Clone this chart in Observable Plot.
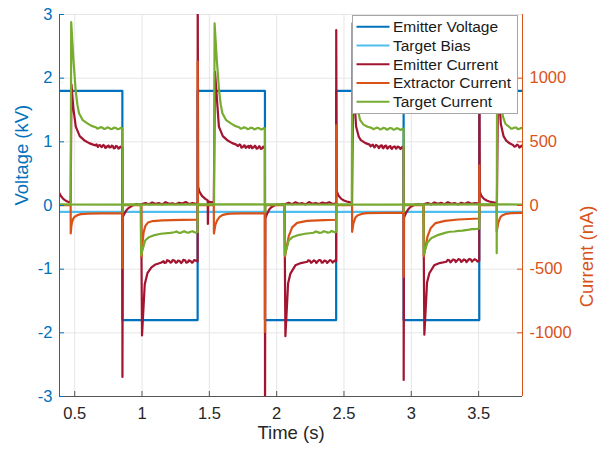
<!DOCTYPE html>
<html><head><meta charset="utf-8">
<script src="https://cdn.jsdelivr.net/npm/d3@7"></script>
<script src="https://cdn.jsdelivr.net/npm/@observablehq/plot@0.6"></script>
<style>
body{margin:0;background:#fff;}
#chart{position:relative;width:601px;height:450px;font-family:"Liberation Sans",Arial,Helvetica,sans-serif;}
#legend{position:absolute;left:352px;top:15px;}
</style></head><body><div id="chart"></div>
<script>
// ---------- data ----------
const seriesNames = ["Emitter Voltage","Target Bias","Emitter Current","Extractor Current","Target Current"];
const seriesColors = ["#0072BD","#4DBEEE","#A2142F","#D95319","#77AC30"];
const xDomain = [0.387, 3.826];
const timeTicks = [0.5, 1, 1.5, 2, 2.5, 3, 3.5];
const voltLimits = [-3, 3];
const voltTicks = [-3, -2, -1, 0, 1, 2, 3];
const currentLimits = [-1500, 1500];
const currentTicks = [-1000, -500, 0, 500, 1000];

// Emitter voltage (kV)
const voltT = [0.387, 0.854, 0.854, 1.413, 1.413, 1.913, 1.913, 2.442, 2.442, 2.943, 2.943, 3.505, 3.505, 3.826];
const voltV = [1.8, 1.8, -1.8, -1.8, 1.8, 1.8, -1.8, -1.8, 1.8, 1.8, -1.8, -1.8, 1.8, 1.8];
// Target bias (kV)
const biasT = [0.387, 3.826];
const biasV = [-0.1, -0.1];

// Emitter current (nA): [time s, current nA]
const emitterCurrent = [
[0.387,95],[0.395,80],[0.405,64],[0.415,52],[0.425,44],[0.435,37],[0.445,31],[0.455,28],[0.463,26],[0.470,27],
[0.476,950],[0.490,760],[0.508,620],[0.537,545],[0.570,513],[0.607,490],[0.637,478],
[0.655,472],[0.661,480],[0.672,460],[0.677,470],[0.688,474],[0.699,458],[0.704,462],[0.712,475],[0.722,468],[0.727,452],[0.736,455],[0.741,466],[0.752,471],[0.757,456],[0.768,458],[0.774,470],[0.784,466],[0.790,449],[0.800,452],[0.806,468],[0.816,463],[0.825,447],[0.832,450],[0.839,462],[0.846,458],[0.854,455],
[0.8545,-1346],[0.857,-90],[0.870,-62],[0.885,-36],[0.900,-20],[0.920,-6],[0.940,5],[0.960,12],[0.978,8],[0.993,10],
[1.000,-1020],[1.020,-620],[1.040,-532],[1.070,-486],[1.100,-463],[1.140,-450],
[1.160,-438],[1.167,-451],[1.180,-447],[1.186,-430],[1.200,-435],[1.213,-449],[1.220,-444],[1.228,-428],[1.240,-432],[1.252,-450],[1.260,-446],[1.266,-433],[1.280,-437],[1.291,-452],[1.300,-442],[1.306,-427],[1.320,-430],[1.328,-449],[1.340,-445],[1.347,-431],[1.360,-436],[1.372,-450],[1.380,-441],[1.387,-429],[1.400,-433],[1.413,-440],
[1.4135,1750],[1.417,150],[1.425,112],[1.445,76],[1.470,52],[1.488,40],[1.489,-145],[1.491,34],[1.510,26],[1.533,22],
[1.542,1050],[1.571,620],[1.600,545],[1.633,513],[1.670,490],[1.700,478],
[1.708,470],[1.713,466],[1.724,480],[1.732,474],[1.737,455],[1.748,458],[1.758,473],[1.764,470],[1.770,452],[1.780,461],[1.791,468],[1.796,452],[1.806,470],[1.812,467],[1.818,449],[1.828,456],[1.839,469],[1.844,463],[1.851,446],[1.860,450],[1.871,466],[1.876,460],[1.882,445],[1.892,448],[1.900,462],[1.905,457],[1.913,455],
[1.9135,-1750],[1.916,-100],[1.930,-62],[1.945,-32],[1.960,-14],[1.980,-2],[2.000,9],[2.020,5],[2.040,12],[2.058,9],
[2.065,-1027],[2.085,-610],[2.102,-535],[2.139,-470],[2.180,-452],[2.227,-442],
[2.235,-430],[2.247,-434],[2.255,-450],[2.262,-446],[2.275,-431],[2.288,-437],[2.295,-452],[2.301,-443],[2.315,-428],[2.327,-431],[2.335,-449],[2.343,-447],[2.355,-432],[2.368,-438],[2.375,-451],[2.382,-444],[2.395,-429],[2.407,-434],[2.415,-448],[2.423,-441],[2.435,-430],[2.442,-437],
[2.4425,1377],[2.446,112],[2.460,76],[2.480,52],[2.500,39],[2.520,31],[2.540,26],[2.560,22],
[2.568,1000],[2.590,620],[2.610,540],[2.625,513],[2.660,490],[2.690,478],
[2.698,465],[2.703,470],[2.714,478],[2.722,462],[2.727,456],[2.738,475],[2.749,468],[2.754,459],[2.760,450],[2.770,468],[2.781,472],[2.786,455],[2.792,449],[2.802,466],[2.813,470],[2.818,452],[2.824,447],[2.834,462],[2.845,466],[2.850,449],[2.856,445],[2.866,460],[2.877,464],[2.882,454],[2.888,446],[2.898,463],[2.909,459],[2.914,450],[2.920,444],[2.930,458],[2.936,461],[2.943,455],
[2.9435,-1370],[2.946,-95],[2.960,-60],[2.975,-33],[2.990,-15],[3.010,-3],[3.030,8],[3.050,12],[3.070,7],[3.090,10],
[3.097,-1015],[3.117,-605],[3.134,-532],[3.170,-470],[3.210,-452],[3.260,-442],
[3.270,-427],[3.282,-431],[3.290,-446],[3.297,-440],[3.310,-424],[3.323,-428],[3.330,-444],[3.337,-437],[3.350,-421],[3.363,-426],[3.370,-443],[3.377,-439],[3.390,-424],[3.403,-430],[3.410,-445],[3.417,-436],[3.430,-420],[3.443,-425],[3.450,-441],[3.457,-434],[3.470,-422],[3.482,-428],[3.492,-440],[3.505,-432],
[3.5055,1300],[3.509,110],[3.520,76],[3.540,52],[3.560,39],[3.580,31],[3.600,26],[3.620,22],[3.636,21],
[3.645,1000],[3.665,640],[3.685,545],[3.705,510],[3.730,488],[3.755,476],[3.765,462],[3.775,466],[3.785,478],[3.795,472],[3.803,455],[3.810,460],[3.818,470],[3.826,465]
];
// Emitter current trace near zero during the negative half-cycles (nA)
const emitterCurrentBaseline = [
[[1.000,12],[1.025,20],[1.050,9],[1.075,24],[1.100,14],[1.125,19],[1.150,8],[1.175,26],[1.200,13],[1.225,18],[1.250,10],[1.275,22],[1.300,15],[1.325,27],[1.350,11],[1.375,20],[1.400,14],[1.413,16]],
[[2.065,12],[2.090,21],[2.115,10],[2.140,25],[2.165,14],[2.190,18],[2.215,9],[2.240,27],[2.265,13],[2.290,20],[2.315,11],[2.340,23],[2.365,15],[2.390,26],[2.415,12],[2.442,17]],
[[3.097,11],[3.122,19],[3.147,9],[3.172,24],[3.197,13],[3.222,21],[3.247,10],[3.272,26],[3.297,14],[3.322,19],[3.347,8],[3.372,22],[3.397,12],[3.422,25],[3.447,14],[3.472,18],[3.505,15]]
];
// Extractor current (nA)
const extractorCurrent = [
[0.387,3],[0.470,3],
[0.4705,-220],[0.474,-170],[0.480,-130],[0.490,-102],[0.500,-88],[0.520,-76],[0.545,-68],[0.600,-64],[0.700,-62],[0.854,-62],
[0.8545,-490],[0.856,3],[0.995,3],
[0.997,-400],[1.003,-300],[1.012,-210],[1.025,-160],[1.045,-133],[1.080,-122],[1.150,-117],[1.300,-113],[1.413,-112],
[1.4132,1130],[1.415,20],[1.420,3],[1.533,3],
[1.534,-220],[1.545,-150],[1.559,-115],[1.575,-92],[1.596,-76],[1.625,-68],[1.657,-64],[1.750,-62],[1.913,-62],
[1.9133,-993],[1.915,3],[2.060,3],
[2.062,-400],[2.073,-337],[2.090,-240],[2.115,-172],[2.152,-136],[2.226,-121],[2.350,-115],[2.442,-112],
[2.4422,630],[2.444,3],[2.560,3],
[2.5605,-207],[2.570,-140],[2.585,-95],[2.600,-78],[2.630,-66],[2.670,-60],[2.800,-58],[2.943,-58],
[2.9433,-560],[2.945,3],[3.092,3],
[3.094,-400],[3.105,-330],[3.120,-245],[3.145,-176],[3.180,-138],[3.250,-121],[3.350,-110],[3.505,-102],
[3.5052,316],[3.507,3],[3.634,3],
[3.6345,-205],[3.645,-140],[3.660,-95],[3.675,-78],[3.700,-66],[3.740,-60],[3.826,-58]
];
// Target current (nA)
const targetCurrent = [
[0.387,8],[0.470,8],
[0.474,1440],[0.490,1150],[0.507,905],[0.520,790],[0.532,725],[0.560,670],[0.594,645],[0.625,625],[0.656,615],
[0.668,604],[0.680,608],[0.692,615],[0.705,612],[0.718,601],[0.730,604],[0.742,613],[0.755,610],[0.768,600],[0.780,603],[0.792,611],[0.805,609],[0.818,599],[0.830,602],[0.842,610],[0.854,606],
[0.855,-50],[0.858,8],[0.990,8],
[0.993,-390],[1.023,-275],[1.050,-250],[1.085,-235],[1.140,-222],[1.210,-215],
[1.240,-210],[1.255,-204],[1.270,-213],[1.285,-216],[1.300,-207],[1.315,-203],[1.330,-211],[1.345,-214],[1.360,-206],[1.375,-202],[1.390,-210],[1.400,-213],[1.413,-208],
[1.4135,8],[1.535,8],
[1.539,1430],[1.555,1150],[1.572,905],[1.585,790],[1.597,725],[1.625,670],[1.660,645],[1.690,625],[1.720,615],
[1.733,603],[1.745,607],[1.758,614],[1.770,611],[1.783,600],[1.795,603],[1.808,612],[1.820,609],[1.833,598],[1.845,602],[1.858,610],[1.870,607],[1.883,597],[1.895,600],[1.905,608],[1.913,604],
[1.9135,-50],[1.917,8],[2.058,8],
[2.060,-390],[2.090,-275],[2.115,-250],[2.152,-235],[2.210,-222],[2.275,-214],
[2.290,-204],[2.305,-209],[2.320,-215],[2.335,-212],[2.350,-202],[2.365,-206],[2.380,-213],[2.395,-210],[2.408,-200],[2.420,-205],[2.432,-211],[2.442,-207],
[2.4425,8],[2.558,8],
[2.562,1430],[2.575,1120],[2.590,880],[2.605,740],[2.620,670],[2.645,635],[2.675,618],[2.705,610],
[2.718,599],[2.730,604],[2.742,612],[2.755,609],[2.768,597],[2.780,601],[2.792,610],[2.805,607],[2.818,596],[2.830,600],[2.842,609],[2.855,606],[2.868,595],[2.880,599],[2.892,607],[2.905,604],[2.918,594],[2.930,598],[2.936,606],[2.943,602],
[2.9435,-50],[2.947,8],[3.090,8],
[3.092,-385],[3.120,-290],[3.150,-255],[3.190,-235],[3.250,-215],[3.285,-206],[3.320,-204],[3.350,-199],[3.380,-197],[3.405,-193],[3.430,-190],[3.450,-186],[3.470,-185],[3.490,-183],[3.505,-180],
[3.5055,8],[3.634,8],[3.6345,-375],[3.638,1430],[3.652,1100],[3.665,850],[3.680,700],[3.700,640],[3.730,615],
[3.742,603],[3.755,606],[3.768,612],[3.780,611],[3.792,600],[3.805,603],[3.815,610],[3.826,607]
];
// Target current trace near zero across the whole record (nA)
const targetCurrentBaseline = [[0.387,8],[1.0,7],[1.6,9],[2.2,8],[2.8,7],[3.4,9],[3.826,8]];

// ---------- build tables ----------
const ratio = currentLimits[1] / voltLimits[1]; // nA per kV on the shared frame
const voltRows = voltT.map((t, i) => ({t, y: voltV[i]}));
const biasRows = biasT.map((t, i) => ({t, y: biasV[i]}));
const cur = (pairs, seg) => pairs.map(([t, nA]) => ({t, y: nA / ratio, seg}));
const redRows = [...cur(emitterCurrent, "main"), ...emitterCurrentBaseline.flatMap((s, k) => cur(s, "base" + k))];
const orangeRows = cur(extractorCurrent, "main");
const greenRows = [...cur(targetCurrentBaseline, "base"), ...cur(targetCurrent, "main")];

const font = '"Liberation Sans", Arial, Helvetica, sans-serif';
const W = 601, H = 450, mL = 59, mR = 79, mT = 14, mB = 54;
const frameW = W - mL - mR, frameH = H - mT - mB, tickLen = 5;
const grid = "#e6e6e6", axisGray = "#262626", tickFont = 16.5;

const plot = Plot.plot({
  width: W, height: H,
  marginLeft: mL, marginRight: mR, marginTop: mT, marginBottom: mB,
  x: {domain: xDomain},
  y: {domain: voltLimits},
  style: {fontFamily: font, fontSize: tickFont + "px", background: "white", overflow: "visible"},
  marks: [
    Plot.gridX(timeTicks, {stroke: grid, strokeOpacity: 1}),
    Plot.gridY(voltTicks, {stroke: grid, strokeOpacity: 1}),
    Plot.line(voltRows, {x: "t", y: "y", stroke: seriesColors[0], strokeWidth: 2.2, clip: true}),
    Plot.line(biasRows, {x: "t", y: "y", stroke: seriesColors[1], strokeWidth: 2.2, clip: true}),
    Plot.line(redRows, {x: "t", y: "y", z: "seg", stroke: seriesColors[2], strokeWidth: 2.2, clip: true}),
    Plot.line(orangeRows, {x: "t", y: "y", z: "seg", stroke: seriesColors[3], strokeWidth: 2.2, clip: true}),
    Plot.line(greenRows, {x: "t", y: "y", z: "seg", stroke: seriesColors[4], strokeWidth: 2.2, clip: true}),
    Plot.ruleX([xDomain[0]], {stroke: seriesColors[0], strokeWidth: 1}),
    Plot.ruleX([xDomain[1]], {stroke: seriesColors[3], strokeWidth: 1}),
    Plot.ruleY([voltLimits[0]], {stroke: "#555", strokeWidth: 1}),
    Plot.tickX(timeTicks, {x: d => d, insetTop: frameH - tickLen, stroke: "#555"}),
    Plot.tickY(voltTicks, {y: d => d, insetRight: frameW - tickLen, stroke: seriesColors[0]}),
    Plot.tickY(currentTicks, {y: d => d / ratio, insetLeft: frameW - tickLen, stroke: seriesColors[3]}),
    Plot.axisX(timeTicks, {tickSize: 0, tickPadding: 10.5, fontSize: tickFont, color: axisGray, label: null, tickFormat: d => String(d)}),
    Plot.axisY(voltTicks, {anchor: "left", tickSize: 0, tickPadding: 7, fontSize: tickFont, color: seriesColors[0], label: null, tickFormat: d => String(d)}),
    Plot.axisY(currentTicks.map(d => d / ratio), {anchor: "right", tickSize: 0, tickPadding: 7, fontSize: tickFont, color: seriesColors[3], label: null, tickFormat: d => String(Math.round(d * ratio))}),
    Plot.text(["Time (s)"], {text: d => d, frameAnchor: "bottom", dy: 42.5, fontSize: 18.5, fill: axisGray}),
    Plot.text(["Voltage (kV)"], {text: d => d, frameAnchor: "left", dx: -37.5, rotate: -90, fontSize: 18.5, fill: seriesColors[0]}),
    Plot.text(["Current (nA)"], {text: d => d, frameAnchor: "right", dx: 65, rotate: -90, fontSize: 18.5, fill: seriesColors[3]})
  ]
});
const chart = document.getElementById("chart");
chart.appendChild(plot);

// ---------- legend (overlay inside the axes, top right) ----------
const lw = 166, lh = 99, rowY0 = 11.7, rowStep = 18.75;
const leg = d3.select(chart).append("svg").attr("id", "legend").attr("width", lw).attr("height", lh);
leg.append("rect").attr("x", 0.5).attr("y", 0.5).attr("width", lw - 1).attr("height", lh - 1)
  .attr("fill", "white").attr("stroke", "#a6a6a6").attr("stroke-width", 1);
const rows = leg.selectAll("g").data(seriesNames).join("g")
  .attr("transform", (d, i) => `translate(0,${rowY0 + i * rowStep})`);
rows.append("line").attr("x1", 4.5).attr("x2", 37.5).attr("y1", 0).attr("y2", 0)
  .attr("stroke", (d, i) => seriesColors[i]).attr("stroke-width", 2);
rows.append("text").attr("x", 41).attr("y", 0).attr("dy", "0.35em")
  .attr("font-family", font).attr("font-size", 15.5).attr("fill", "#1a1a1a").text(d => d);
</script></body></html>
